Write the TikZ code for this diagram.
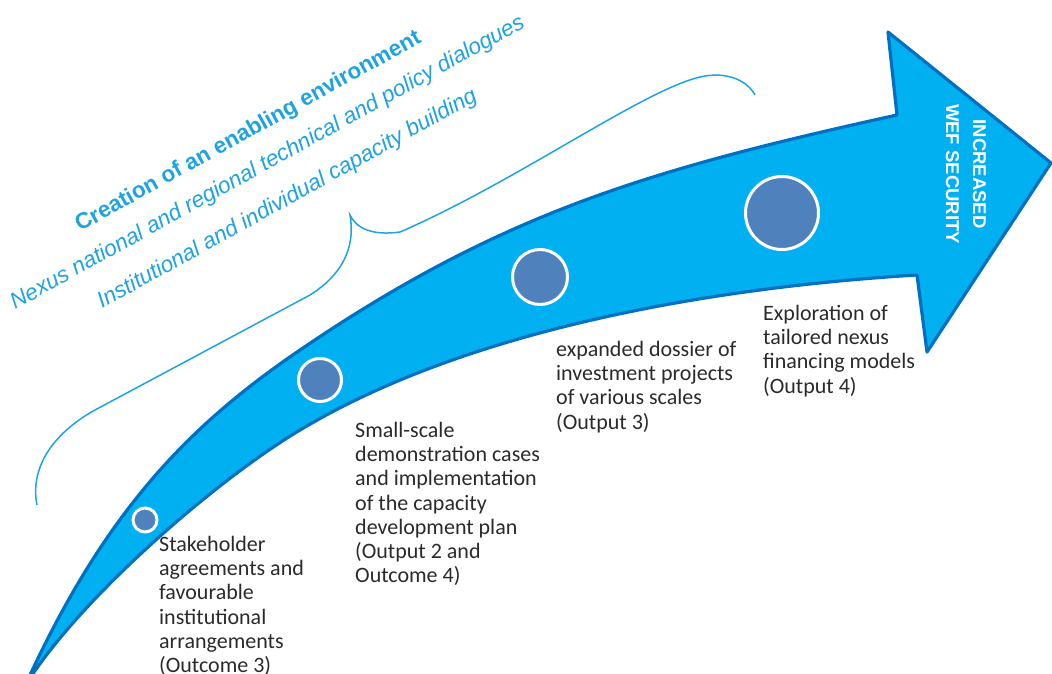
\documentclass[tikz,border=0pt]{standalone}
\usepackage{fontspec}
\newfontfamily\arialf{Liberation Sans}
\newfontfamily\calib{Carlito}
\definecolor{arrowfill}{HTML}{00B0F0}
\definecolor{arrowline}{HTML}{0070C0}
\definecolor{dotfill}{HTML}{4F81BD}
\definecolor{skyblue}{HTML}{1FA3E0}
\definecolor{txtdark}{HTML}{2A2A2A}
\begin{document}
\begin{tikzpicture}[x=1pt,y=-1pt,
  dot/.style={circle,fill=dotfill,draw=white,line width=3pt,inner sep=0pt},
  bluetxt/.style={text=skyblue,font=\arialf\fontsize{22.5}{26}\selectfont\itshape,anchor=base west,inner sep=0pt,rotate=29},
  blacktxt/.style={text=txtdark,font=\calib\fontsize{22}{24.2}\selectfont,anchor=north west,align=left,inner sep=0pt},
  bracestyle/.style={draw=skyblue,line width=1.5pt}]
\useasboundingbox (0,0) rectangle (1052,674);
% arrow
\filldraw[fill=arrowfill,draw=arrowline,line width=3.2pt,line join=round]
  (25,686) .. controls (105,510) and (190,425) .. (300,350)
  .. controls (500,214) and (647,170) .. (897,115)
  -- (888,32) -- (1051,163) -- (927,352) -- (917,275)
  .. controls (717,287) and (470,328) .. (300,430)
  .. controls (210,484) and (75,604) .. (25,686) -- cycle;
% dots
\node[dot,minimum size=24pt] (d1) at (145,520) {};
\node[dot,minimum size=43pt] (d2) at (320,380) {};
\node[dot,minimum size=55pt] (d3) at (540,277) {};
\node[dot,minimum size=73pt] (d4) at (782,213) {};
% head label
\node[text=white,font=\arialf\bfseries\fontsize{18.5}{27}\selectfont,align=center,rotate=-90,inner sep=0pt] (goal) at (966,174) {INCREASED\\WEF SECURITY};
% brace
\coordinate (bl) at (37,505);
\coordinate (bm) at (350,215);
\coordinate (br) at (755,95);
\draw[bracestyle] (bl) .. controls (30,470) and (50,435) .. (95,410) -- (310,295) .. controls (340,276) and (356,250) .. (bm)
  .. controls (356,228) and (372,236) .. (400,232) .. controls (520,180) and (650,85) .. (705,76) .. controls (730,72) and (748,82) .. (br);
% blue texts
\node[bluetxt,font=\arialf\fontsize{22.5}{26}\selectfont\bfseries] (t0) at (80,232) {Creation of an enabling environment};
\node[bluetxt] (t1) at (15,310) {Nexus national and regional technical and policy dialogues};
\node[bluetxt] (t2) at (102,309) {Institutional and individual capacity building};
% black texts
\node[blacktxt] (s1) at (159,536) {Stakeholder\\agreements and\\favourable\\institutional\\arrangements\\(Outcome 3)};
\node[blacktxt] (s2) at (355,422) {Small-scale\\demonstration cases\\and implementation\\of the capacity\\development plan\\(Output 2 and\\Outcome 4)};
\node[blacktxt] (s3) at (556,341) {expanded dossier of\\investment projects\\of various scales\\(Output 3)};
\node[blacktxt] (s4) at (763,305) {Exploration of\\tailored nexus\\financing models\\(Output 4)};
\end{tikzpicture}
\end{document}
